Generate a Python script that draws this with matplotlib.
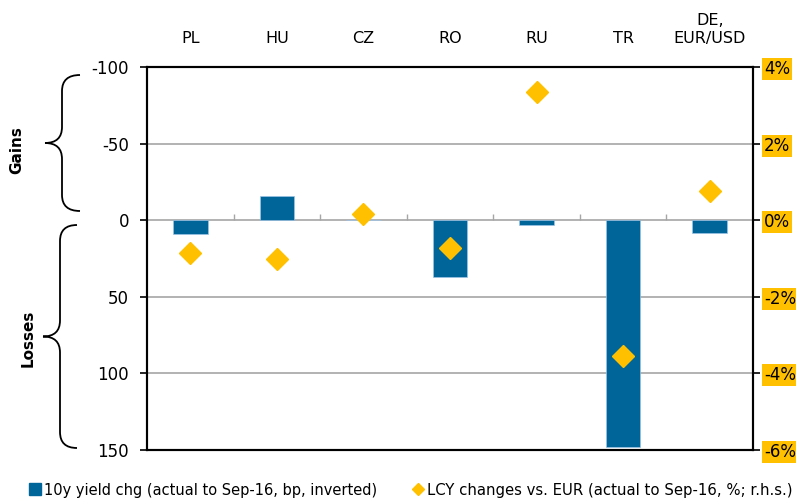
import matplotlib.pyplot as plt
from matplotlib.path import Path
from matplotlib.patches import PathPatch
from matplotlib.lines import Line2D
import numpy as np

# Data
categories = ['PL', 'HU', 'CZ', 'RO', 'RU', 'TR', 'DE,\nEUR/USD']
yield_chg = [9, -16, 0, 37, 3, 148, 8.5]          # bp, inverted axis
lcy_chg = [-0.86, -1.0, 0.16, -0.73, 3.35, -3.55, 0.76]  # %, r.h.s.
left_ticks = [-100, -50, 0, 50, 100, 150]
right_ticks = [4, 2, 0, -2, -4, -6]

blue = '#006599'
gold = '#FFC000'
plt.rcParams['font.family'] = ['DejaVu Sans']

fig = plt.figure(figsize=(7.96, 4.99), dpi=100)
ax = fig.add_axes([147 / 796, 49 / 499, 606 / 796, 383 / 499])
x = np.arange(len(categories))

ax.set_ylim(150, -100)
ax.set_xlim(-0.5, len(categories) - 0.5)
ax.set_yticks(left_ticks)
ax.set_yticklabels([str(t) for t in left_ticks], fontsize=12)
for t in left_ticks[1:-1]:
    ax.axhline(t, color='#a6a6a6', lw=1.2, zorder=1)
ax.bar(x, yield_chg, width=0.4, color=blue, edgecolor='#9dc3e6', lw=0.5, zorder=2)
# category separators on the zero line
ax.vlines(x[:-1] + 0.5, 0, -4, color='#a6a6a6', lw=1, zorder=1)

ax.xaxis.tick_top()
ax.set_xticks(x)
ax.set_xticklabels(categories, fontsize=11.5, linespacing=1.3)
ax.tick_params(axis='x', length=0, pad=15)
ax.tick_params(axis='y', length=5, width=1.2, pad=8)
for s in ax.spines.values():
    s.set_linewidth(1.5)

ax2 = ax.twinx()
ax2.set_ylim(-6, 4)
ax2.plot(x, lcy_chg, 'D', color=gold, markersize=11, zorder=3, ls='none')
ax2.set_yticks(right_ticks)
ax2.set_yticklabels([f'{t}%' for t in right_ticks], fontsize=12)
ax2.tick_params(axis='y', length=5, width=1.2, pad=3)
for lab in ax2.get_yticklabels():
    lab.set_bbox(dict(facecolor=gold, edgecolor='none', pad=1.5))
for s in ax2.spines.values():
    s.set_linewidth(1.5)

# overlay for braces and side labels (pixel coordinates)
ov = fig.add_axes([0, 0, 1, 1], facecolor='none')
ov.set_xlim(0, 796)
ov.set_ylim(499, 0)
ov.axis('off')


def brace(xt, xm, xr, yt, yb, r=16):
    ym = (yt + yb) / 2
    verts = [(xr, yt), (xm, yt), (xm, yt + r),
             (xm, ym - r), (xm, ym), (xt, ym),
             (xm, ym), (xm, ym + r),
             (xm, yb - r), (xm, yb), (xr, yb)]
    codes = [Path.MOVETO, Path.CURVE3, Path.CURVE3,
             Path.LINETO, Path.CURVE3, Path.CURVE3,
             Path.CURVE3, Path.CURVE3,
             Path.LINETO, Path.CURVE3, Path.CURVE3]
    ov.add_patch(PathPatch(Path(verts, codes), fill=False, lw=1.3, color='black'))


brace(45, 62, 80, 75, 211)
brace(43, 60, 77, 225, 448)
ov.text(17, 150, 'Gains', rotation=90, ha='center', va='center',
        fontsize=11, fontweight='bold')
ov.text(28, 338, 'Losses', rotation=90, ha='center', va='center',
        fontsize=11, fontweight='bold')

h1 = [Line2D([], [], marker='s', color=blue, ls='none', markersize=9)]
h2 = [Line2D([], [], marker='D', color=gold, ls='none', markersize=6)]
leg1 = fig.legend(h1, ['10y yield chg (actual to Sep-16, bp, inverted)'],
                  loc='center left', bbox_to_anchor=(28 / 796, 1 - 490 / 499),
                  frameon=False, fontsize=10.5, handletextpad=0.1, handlelength=1,
                  borderaxespad=0, borderpad=0)
fig.legend(h2, ['LCY changes vs. EUR (actual to Sep-16, %; r.h.s.)'],
           loc='center left', bbox_to_anchor=(411 / 796, 1 - 490 / 499),
           frameon=False, fontsize=10.7, handletextpad=0.1, handlelength=1,
           borderaxespad=0, borderpad=0)

fig.savefig('out.png', dpi=100)
